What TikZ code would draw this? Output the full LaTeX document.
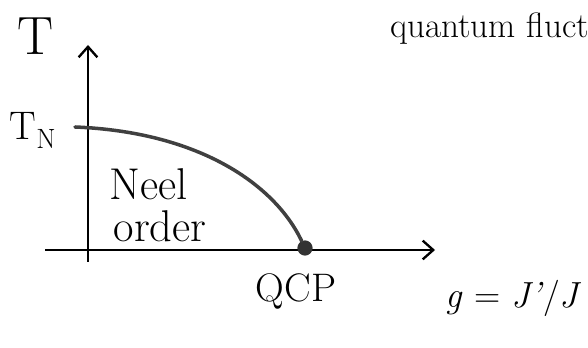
\documentclass[tikz,border=0pt]{standalone}
\usepackage{tikz}
\usetikzlibrary{arrows.meta, positioning}
\usepackage{amsmath}

\begin{document}
\begin{tikzpicture}[
  x=0.03cm, y=-0.03cm,
  ax/.style={line width=2pt, -{Straight Barb[length=9pt, width=16pt, line width=2pt]}},
  lbl/.style={inner sep=0pt, font=\fontsize{38}{40}\selectfont},
  pd/.style={line width=3pt, black!75, line cap=round},
]
  \clip (0,0) rectangle (588,348);

  % axes
  \coordinate (o)  at (88,250);
  \coordinate (yb) at (88,262);
  \coordinate (yt) at (88,45);
  \coordinate (xl) at (45,250);
  \coordinate (xr) at (435,250);
  \draw[ax] (yb) -- (yt);
  \draw[ax] (xl) -- (xr);

  \node[lbl, font=\fontsize{46}{48}\selectfont] (tlab) at (36,36) {T};
  \node[lbl, font=\fontsize{34}{36}\selectfont] (tnlab) at (33,130) {T\textsubscript{N}};
  \node[lbl, anchor=base west, font=\fontsize{30}{32}\selectfont]
    (qf) at (390,38) {quantum fluctuations};

  % phase boundary
  \coordinate (tn) at (75,127);
  \node[circle, fill=black!80, inner sep=0pt, minimum size=13pt] (qcp) at (305,248) {};
  \draw[pd] (tn) .. controls (200,132) and (275,185) .. (qcp);

  \node[lbl] (neel)  at (149,184) {Neel};
  \node[lbl] (order) at (160,226) {order};
  \node[lbl, font=\fontsize{34}{36}\selectfont] (qcplab) at (296,291) {QCP};
  \node[lbl, font=\fontsize{31}{33}\selectfont] (glab) at (514,298)
    {\textit{g} = \textit{J'}/\textit{J}};
\end{tikzpicture}
\end{document}
